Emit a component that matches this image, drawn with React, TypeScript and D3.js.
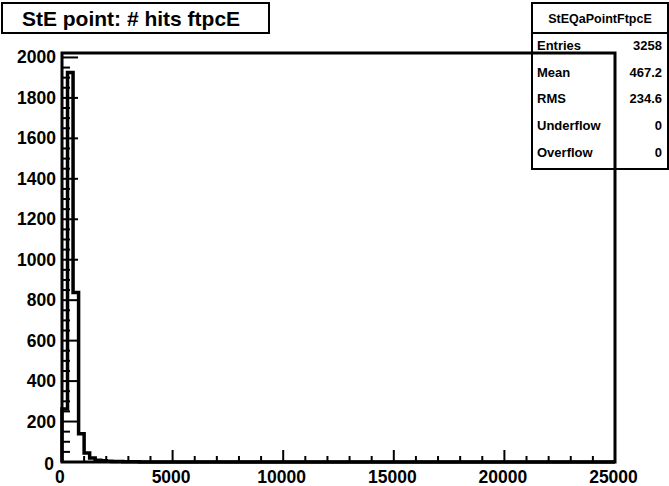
import React, { useRef, useEffect } from 'react';
import * as d3 from 'd3';

// histogram: 100 bins of 250 over 0..25000, only first bins are non-empty
const binWidth = 250;
const binCounts = [262, 1926, 838, 140, 45, 20, 9, 6, 4, 3, 2, 1, 1, 1];
const xTicks = [0, 5000, 10000, 15000, 20000, 25000];
const yTicks = [0, 200, 400, 600, 800, 1000, 1200, 1400, 1600, 1800, 2000];
const statLabels = ['Entries', 'Mean', 'RMS', 'Underflow', 'Overflow'];
const statValues = ['3258', '467.2', '234.6', '0', '0'];

export const App: React.FC = () => {
  const svgRef = useRef<SVGSVGElement>(null);

  useEffect(() => {
    const width = 669, height = 486;
    const svg = d3.select(svgRef.current as SVGSVGElement)
      .attr('width', width)
      .attr('height', height);
    svg.selectAll('*').remove();

    const left = 62, right = 615, top = 53, bottom = 462;
    const x = d3.scaleLinear().domain([0, 25000]).range([left, right]);
    const y = d3.scaleLinear().domain([0, 2022]).range([bottom, top]);
    const font = "'Liberation Sans', Arial, Helvetica, sans-serif";

    svg.append('rect').attr('width', width).attr('height', height).attr('fill', '#fff');

    // stats box (frame is drawn on top of it)
    const sb = { x0: 532, y0: 3, x1: 668, y1: 169 };
    svg.append('rect')
      .attr('x', sb.x0).attr('y', sb.y0)
      .attr('width', sb.x1 - sb.x0).attr('height', sb.y1 - sb.y0)
      .attr('fill', '#fff').attr('stroke', '#000').attr('stroke-width', 2);
    svg.append('line')
      .attr('x1', sb.x0).attr('x2', sb.x1).attr('y1', 33).attr('y2', 33)
      .attr('stroke', '#000').attr('stroke-width', 2);
    svg.append('text')
      .attr('x', (sb.x0 + sb.x1) / 2).attr('y', 23)
      .attr('text-anchor', 'middle')
      .style('font', `bold 12.5px ${font}`)
      .text('StEQaPointFtpcE');
    statLabels.forEach((lab, i) => {
      const yy = 50 + i * 26.7;
      svg.append('text').attr('x', 537).attr('y', yy)
        .style('font', `bold 13px ${font}`).text(lab);
      svg.append('text').attr('x', 662).attr('y', yy)
        .attr('text-anchor', 'end')
        .style('font', `bold 13px ${font}`).text(statValues[i]);
    });

    // title box
    svg.append('rect')
      .attr('x', 2).attr('y', 3).attr('width', 267).attr('height', 30)
      .attr('fill', '#fff').attr('stroke', '#000').attr('stroke-width', 2);
    svg.append('text')
      .attr('x', 131).attr('y', 25.5)
      .attr('text-anchor', 'middle')
      .style('font', `bold 21px ${font}`)
      .text('StE point: # hits ftpcE');

    // histogram step line
    const pts: [number, number][] = [[0, 0]];
    binCounts.forEach((c, i) => {
      pts.push([i * binWidth, c]);
      pts.push([(i + 1) * binWidth, c]);
    });
    pts.push([binCounts.length * binWidth, 0]);
    pts.push([25000, 0]);
    const line = d3.line<[number, number]>().x(d => x(d[0])).y(d => y(d[1]));
    svg.append('path')
      .datum(pts)
      .attr('fill', 'none')
      .attr('stroke', '#000')
      .attr('stroke-width', 3.5)
      .attr('d', line as any);

    // y ticks: major every 200, minor every 50
    d3.range(0, 2001, 50).forEach(v => {
      const major = v % 200 === 0;
      svg.append('line')
        .attr('x1', left).attr('x2', left + (major ? 16 : 8))
        .attr('y1', y(v)).attr('y2', y(v))
        .attr('stroke', '#000').attr('stroke-width', 2);
    });
    yTicks.forEach(v => {
      svg.append('text')
        .attr('x', v === 0 ? 54 : 56).attr('y', y(v) + (v === 0 ? 8 : 6))
        .attr('text-anchor', 'end')
        .style('font', `bold 17.5px ${font}`)
        .text(String(v));
    });

    // x ticks: major every 5000, minor every 1000
    d3.range(0, 25001, 1000).forEach(v => {
      const major = v % 5000 === 0;
      svg.append('line')
        .attr('x1', x(v)).attr('x2', x(v))
        .attr('y1', bottom).attr('y2', bottom - (major ? 12 : 6))
        .attr('stroke', '#000').attr('stroke-width', 2);
    });
    xTicks.forEach(v => {
      svg.append('text')
        .attr('x', v === 0 ? 59.5 : x(v) - 1.5).attr('y', 483)
        .attr('text-anchor', v === 0 ? 'start' : 'middle')
        .attr('dx', v === 0 ? -4.5 : 0)
        .style('font', `bold 17.5px ${font}`)
        .text(String(v));
    });

    // frame
    svg.append('rect')
      .attr('x', left).attr('y', top)
      .attr('width', right - left).attr('height', bottom - top)
      .attr('fill', 'none').attr('stroke', '#000').attr('stroke-width', 3);
  }, []);

  return <svg ref={svgRef} style={{ position: 'absolute', left: 0, top: 0, display: 'block' }} />;
};

export default App;
